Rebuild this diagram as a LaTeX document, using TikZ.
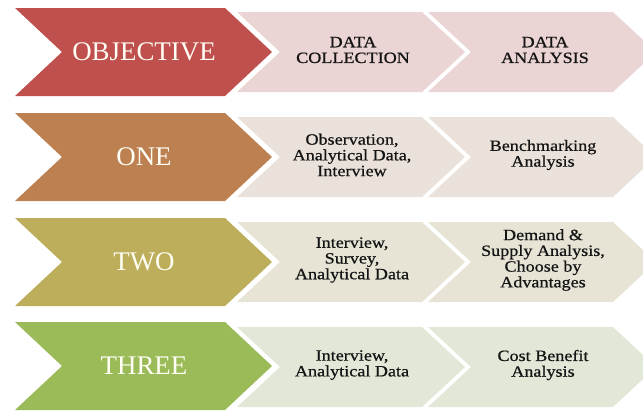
\documentclass[tikz,border=0pt]{standalone}
\usepackage{fontspec}
\setmainfont{Liberation Serif}
\newfontfamily\widefont[FakeStretch=1.15,FakeBold=0.6]{Liberation Serif}
\begin{document}
\begin{tikzpicture}[x=1bp,y=-1bp,
  bigtxt/.style={text=white!96!yellow, font=\fontsize{27}{30}\selectfont, inner sep=0pt},
  smalltxt/.style={text=black!92, align=center, font=\widefont\fontsize{15.8}{15.8}\selectfont, inner sep=0pt}]
\definecolor{cRed}{HTML}{C0504D}
\definecolor{cOrange}{HTML}{BD8050}
\definecolor{cOlive}{HTML}{BCAE5A}
\definecolor{cGreen}{HTML}{9BBB59}
\definecolor{lRed}{HTML}{EAD5D4}
\definecolor{lOrange}{HTML}{EAE2DA}
\definecolor{lOlive}{HTML}{E7E4D6}
\definecolor{lGreen}{HTML}{E2E8D7}
\newcommand\chevp[5]{(#1,#2) -- (#3,#2) -- ++(#5,#4/2) -- ++(-#5,#4/2) -- (#1,#2+#4) -- ++(#5,-#4/2) -- cycle}
\useasboundingbox (0,0) rectangle (643,411);
\clip (0,0) rectangle (643,411);
% row 1
\fill[lRed] \chevp{237}{12}{422}{80}{43};
\fill[lRed] \chevp{428}{12}{613}{80}{43};
\fill[cRed] \chevp{15}{8}{225}{88}{47};
\node[bigtxt] (objective) at (144,52) {OBJECTIVE};
\node[smalltxt] (dc) at (353,50) {DATA\\COLLECTION};
\node[smalltxt] (da) at (545,50) {DATA\\ANALYSIS};
% row 2
\fill[lOrange] \chevp{237}{117}{422}{80}{43};
\fill[lOrange] \chevp{428}{117}{613}{80}{43};
\fill[cOrange] \chevp{15}{113}{225}{88}{47};
\node[bigtxt] (one) at (144,157) {ONE};
\node[smalltxt] (c1) at (352,155) {Observation,\\Analytical Data,\\Interview};
\node[smalltxt] (a1) at (543,155) {Benchmarking\\Analysis};
% row 3
\fill[lOlive] \chevp{237}{222}{422}{80}{43};
\fill[lOlive] \chevp{428}{222}{613}{80}{43};
\fill[cOlive] \chevp{15}{218}{225}{88}{47};
\node[bigtxt] (two) at (144,262) {TWO};
\node[smalltxt] (c2) at (352,260) {Interview,\\Survey,\\Analytical Data};
\node[smalltxt] (a2) at (543,260) {Demand \&\\Supply Analysis,\\Choose by\\Advantages};
% row 4
\fill[lGreen] \chevp{237}{327}{422}{80}{43};
\fill[lGreen] \chevp{428}{327}{613}{80}{43};
\fill[cGreen] \chevp{15}{322}{225}{88}{47};
\node[bigtxt] (three) at (144,366) {THREE};
\node[smalltxt] (c3) at (352,365) {Interview,\\Analytical Data};
\node[smalltxt] (a3) at (543,365) {Cost Benefit\\Analysis};
\end{tikzpicture}
\end{document}
